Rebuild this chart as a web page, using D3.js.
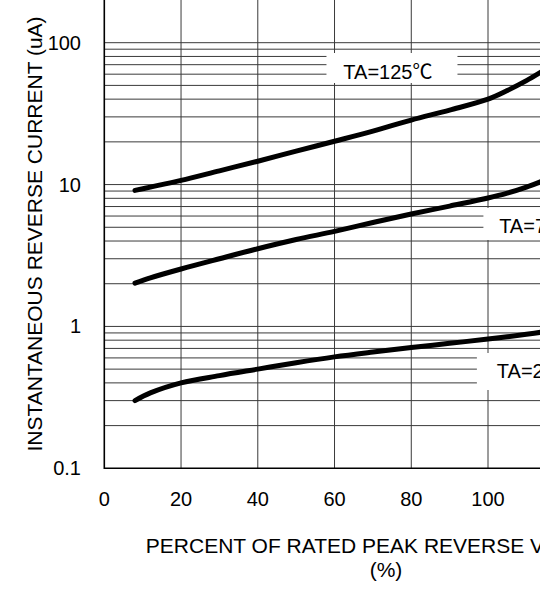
<!DOCTYPE html>
<html>
<head>
<meta charset="utf-8">
<script src="https://cdn.jsdelivr.net/npm/d3@7.9.0/dist/d3.min.js"></script>
<style>
  body { margin: 0; background: #fff; overflow: hidden; }
  svg text { font-family: "Liberation Sans", Arial, "Noto Sans CJK SC", sans-serif; fill: #000; }
</style>
</head>
<body>
<svg id="chart" width="540" height="596"></svg>
<script>
// percent of rated peak reverse voltage
const pct = [8, 12, 20, 30, 40, 50, 60, 70, 80, 90, 100, 105, 110, 115];
// instantaneous reverse current (uA) per temperature
const ta125 = [9.1, 9.6, 10.7, 12.5, 14.6, 17.2, 20.2, 23.8, 28.5, 33.5, 40, 46, 54, 65];
const ta75 = [2.02, 2.2, 2.54, 3.0, 3.53, 4.1, 4.68, 5.4, 6.2, 7.05, 8.04, 8.7, 9.6, 10.8];
const ta25 = [0.30, 0.34, 0.40, 0.45, 0.50, 0.555, 0.61, 0.66, 0.71, 0.76, 0.815, 0.845, 0.88, 0.92];
const seriesNames = ['TA=125℃', 'TA=75℃', 'TA=25℃'];
const xTicks = [0, 20, 40, 60, 80, 100];
const xGrid = [20, 40, 60, 80, 100, 120, 140];
const yTicks = [0.1, 1, 10, 100];

const svg = d3.select('#chart');

let x = d3.scaleLinear().domain([0, 140]).range([104.3, 641.5]);
let y = d3.scaleLog().domain([0.1, 100]).range([468.3, 42.7]);

// grid
let hGrid = y.ticks().filter(v => v > 0.1);
svg.append('g').selectAll('line').data(hGrid).join('line')
  .attr('x1', x(0)).attr('x2', x(140))
  .attr('y1', d => y(d)).attr('y2', d => y(d))
  .attr('stroke', '#3a3a3a').attr('stroke-width', 1);

svg.append('g').selectAll('line').data(xGrid).join('line')
  .attr('x1', d => x(d)).attr('x2', d => x(d))
  .attr('y1', 0).attr('y2', y(0.1))
  .attr('stroke', '#3a3a3a').attr('stroke-width', 1);

// axes
svg.append('line').attr('x1', x(0)).attr('x2', x(0)).attr('y1', 0).attr('y2', y(0.1) + 0.8)
  .attr('stroke', '#000').attr('stroke-width', 1.6);
svg.append('line').attr('x1', x(0)).attr('x2', x(140)).attr('y1', y(0.1)).attr('y2', y(0.1))
  .attr('stroke', '#000').attr('stroke-width', 1.6);

// tick labels
svg.append('g').selectAll('text').data(yTicks).join('text')
  .attr('x', 81).attr('y', d => y(d) + 7)
  .attr('text-anchor', 'end').attr('font-size', 20)
  .text(d => d);
svg.append('g').selectAll('text').data(xTicks).join('text')
  .attr('x', d => x(d)).attr('y', 506)
  .attr('text-anchor', 'middle').attr('font-size', 20)
  .text(d => d);

// axis titles
svg.append('text')
  .attr('transform', 'translate(42,234) rotate(-90)')
  .attr('text-anchor', 'middle').attr('font-size', 21)
  .text('INSTANTANEOUS REVERSE CURRENT (uA)');
svg.append('text')
  .attr('x', 386).attr('y', 553)
  .attr('text-anchor', 'middle').attr('font-size', 21)
  .text('PERCENT OF RATED PEAK REVERSE VOLTAGE');
svg.append('text')
  .attr('x', 386).attr('y', 577)
  .attr('text-anchor', 'middle').attr('font-size', 21)
  .text('(%)');

// curve labels with white boxes (x in %, y in uA at the baseline)
const labels = [
  { name: seriesNames[0], x: 62.3, y: 55.7, bx: 57.9, bw: 131, top: 53, bottom: 83 },
  { name: seriesNames[1], x: 102.9, y: 4.58, bx: 98.8, bw: 120, top: 208, bottom: 240 },
  { name: seriesNames[2], x: 102.3, y: 0.435, bx: 97.1, bw: 120, top: 353, bottom: 390 }
];
labels.forEach(l => {
  svg.append('rect')
    .attr('x', x(l.bx)).attr('y', l.top)
    .attr('width', l.bw).attr('height', l.bottom - l.top)
    .attr('fill', '#fff');
  svg.append('text')
    .attr('x', x(l.x)).attr('y', y(l.y))
    .attr('font-size', 20)
    .text(l.name);
});

// curves
let line = d3.line()
  .x((d, i) => x(pct[i]))
  .y(d => y(d))
  .curve(d3.curveCatmullRom.alpha(0.5));

[ta125, ta75, ta25].forEach(s => {
  svg.append('path')
    .attr('d', line(s))
    .attr('fill', 'none')
    .attr('stroke', '#000')
    .attr('stroke-width', 5)
    .attr('stroke-linecap', 'round');
});
</script>
</body>
</html>
